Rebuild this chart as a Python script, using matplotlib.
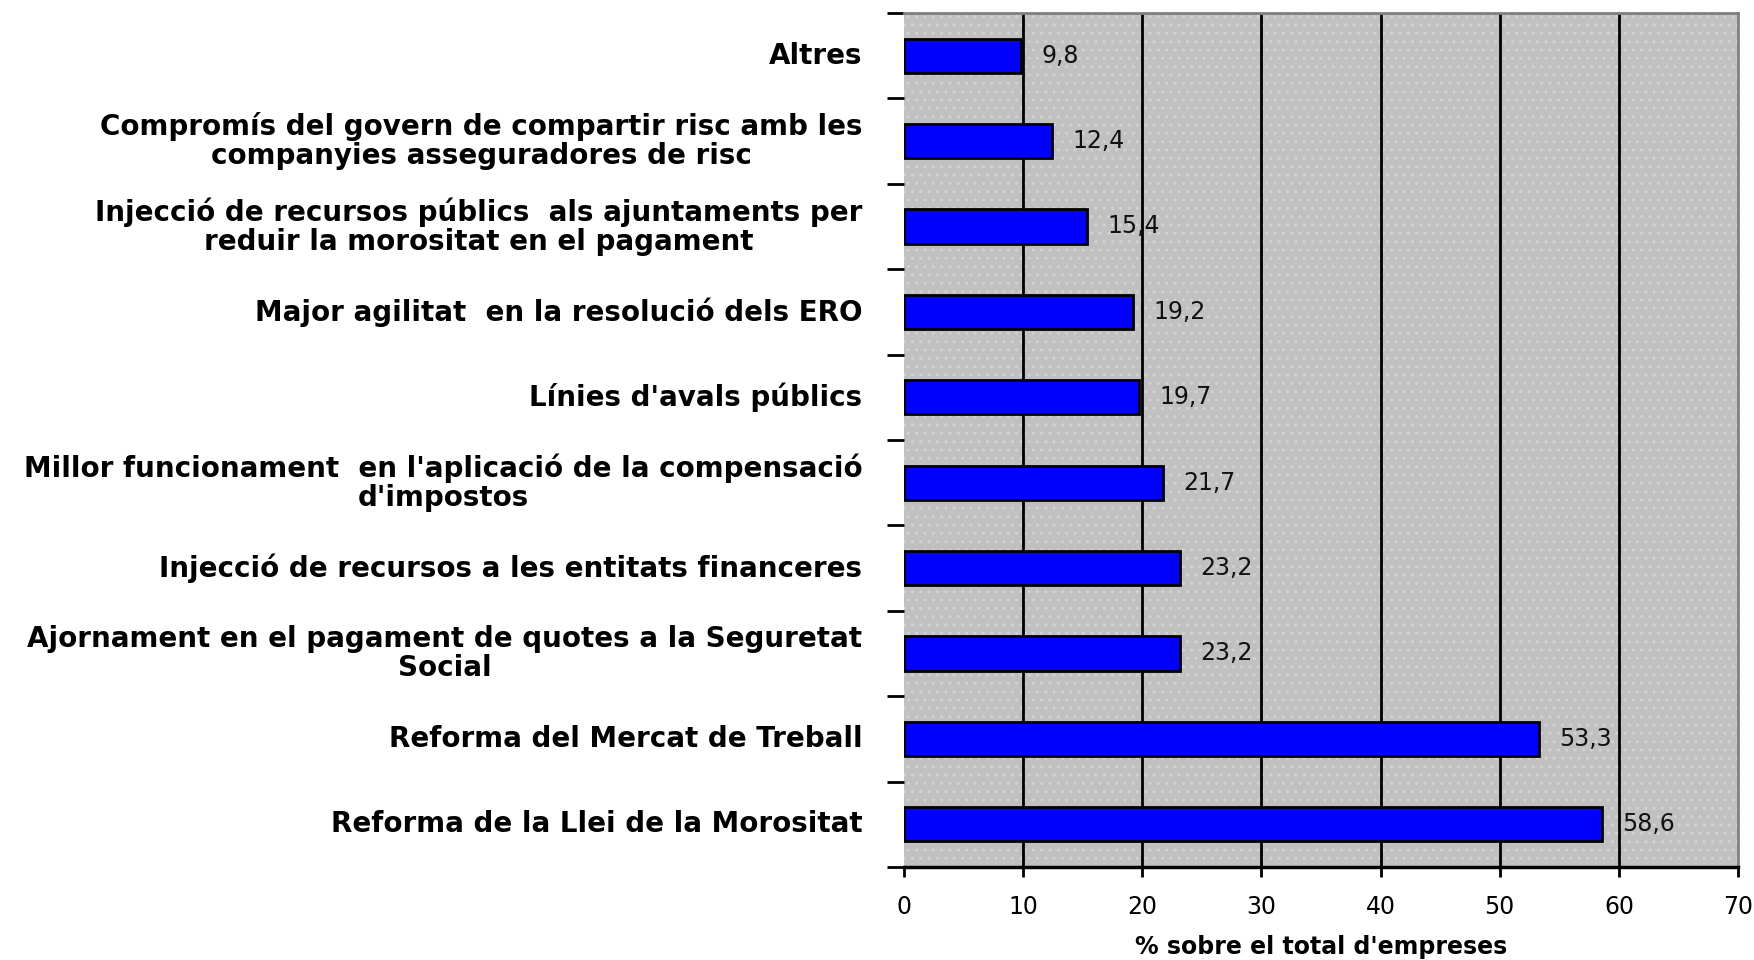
import matplotlib.pyplot as plt
import matplotlib.patches as mpatches
import numpy as np

# categories top to bottom, as in the original chart
categories = [
    "Altres",
    "Compromís del govern de compartir risc amb les\ncompanyies asseguradores de risc",
    "Injecció de recursos públics  als ajuntaments per\nreduir la morositat en el pagament",
    "Major agilitat  en la resolució dels ERO",
    "Línies d'avals públics",
    "Millor funcionament  en l'aplicació de la compensació\nd'impostos",
    "Injecció de recursos a les entitats financeres",
    "Ajornament en el pagament de quotes a la Seguretat\nSocial",
    "Reforma del Mercat de Treball",
    "Reforma de la Llei de la Morositat",
]
values = [9.8, 12.4, 15.4, 19.2, 19.7, 21.7, 23.2, 23.2, 53.3, 58.6]
xticks = [0, 10, 20, 30, 40, 50, 60, 70]
xlabel = "% sobre el total d'empreses"

plt.rcParams['font.family'] = ['DejaVu Sans']
plt.rcParams['hatch.linewidth'] = 1.0

fig = plt.figure(figsize=(17.54, 9.6), dpi=100)
ax = fig.add_axes([0.5154, 0.0969, 0.4755, 0.8896])
ax.set_facecolor('#c0c0c0')
# light dotted texture of the plot area
ax.add_patch(mpatches.Rectangle((0, 0), 1, 1, transform=ax.transAxes, facecolor='none',
                                edgecolor='#d2d2d2', linewidth=0, hatch='..', zorder=0))

y = np.arange(len(categories))
ax.barh(y, values, height=0.4, color='#0000ff', edgecolor='black', linewidth=2, zorder=3)

for yi, v in zip(y, values):
    ax.text(v + 1.7, yi, f"{v:.1f}".replace('.', ','), va='center', ha='left',
            fontsize=17, color='#111111', zorder=4)

ax.set_xlim(0, 70)
ax.set_ylim(-0.5, len(categories) - 0.5)
ax.invert_yaxis()

ax.set_xticks(xticks)
ax.set_xticklabels([str(t) for t in xticks], fontsize=17)
ax.tick_params(axis='x', direction='out', length=7, width=2, pad=13)
for t in xticks[1:-1]:
    ax.axvline(t, color='black', linewidth=2, zorder=1)

# y ticks at category boundaries, labels at centers
ax.set_yticks(np.arange(-0.5, len(categories), 1.0))
ax.set_yticklabels([])
ax.tick_params(axis='y', direction='out', length=12, width=2)
for yi, lab in zip(y, categories):
    ax.text(-0.05, yi, lab, transform=ax.get_yaxis_transform(), ha='right', va='center',
            multialignment='center', fontsize=20, fontweight='bold', linespacing=1.05)

ax.spines['left'].set_visible(False)
ax.spines['top'].set_color('#808080')
ax.spines['right'].set_color('#808080')
ax.spines['top'].set_linewidth(2)
ax.spines['right'].set_linewidth(2)
ax.spines['bottom'].set_color('black')
ax.spines['bottom'].set_linewidth(2.5)

ax.set_xlabel(xlabel, fontsize=17, fontweight='bold', labelpad=12)

fig.savefig('out.png', dpi=100, facecolor='white')
